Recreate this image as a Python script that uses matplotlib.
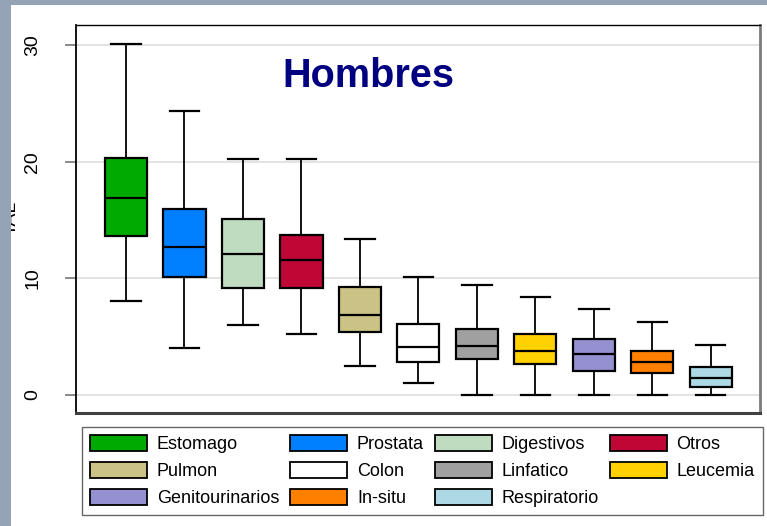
import matplotlib
matplotlib.use("Agg")
import matplotlib.pyplot as plt
from matplotlib.patches import Patch, Rectangle

# ---- data ----
categories = ["Estomago", "Prostata", "Digestivos", "Otros", "Pulmon", "Colon",
              "Linfatico", "Leucemia", "Genitourinarios", "In-situ", "Respiratorio"]
whisker_low = [8.1, 4.0, 6.0, 5.2, 2.5, 1.0, 0.0, 0.0, 0.0, 0.0, 0.0]
q1 =          [13.6, 10.1, 9.2, 9.2, 5.4, 2.8, 3.1, 2.7, 2.1, 1.9, 0.7]
median =      [16.9, 12.7, 12.1, 11.6, 6.9, 4.1, 4.2, 3.8, 3.5, 2.8, 1.5]
q3 =          [20.3, 15.9, 15.1, 13.7, 9.3, 6.1, 5.7, 5.2, 4.8, 3.8, 2.4]
whisker_high = [30.1, 24.3, 20.2, 20.2, 13.4, 10.1, 9.4, 8.4, 7.4, 6.3, 4.3]
colors = ["#00aa00", "#0080ff", "#c0dcc0", "#c00634", "#cbc386", "#ffffff",
          "#a0a0a0", "#ffd200", "#9590d0", "#ff8000", "#add8e6"]
yticks = [0, 10, 20, 30]
title = "Hombres"
ylabel = "TAL"

W, H = 767, 526
fig = plt.figure(figsize=(W / 100, H / 100), dpi=100, facecolor="white")

ax_l, ax_r, ax_t, ax_b = 76, 760, 25, 413
ax = fig.add_axes([ax_l / W, 1 - ax_b / H, (ax_r - ax_l) / W, (ax_b - ax_t) / H])

stats = []
for i, c in enumerate(categories):
    stats.append(dict(label=c, whislo=whisker_low[i], q1=q1[i], med=median[i],
                      q3=q3[i], whishi=whisker_high[i], fliers=[]))
positions = list(range(1, len(categories) + 1))
bp = ax.bxp(stats, positions=positions, widths=0.72, patch_artist=True,
            showfliers=False, capwidths=0.5,
            boxprops=dict(edgecolor="black", linewidth=1.6),
            medianprops=dict(color="black", linewidth=1.6),
            whiskerprops=dict(color="black", linewidth=1.3),
            capprops=dict(color="black", linewidth=1.6))
for patch, col in zip(bp["boxes"], colors):
    patch.set_facecolor(col)
    patch.set_zorder(3)
for ln in bp["medians"]:
    ln.set_zorder(4)

ax.set_xlim(0.145, 11.84)
ax.set_ylim(-1.54, 31.71)
ax.set_xticks([])
ax.set_yticks(yticks)
ax.yaxis.grid(True, color="#dedede", linewidth=1.2)
ax.set_axisbelow(True)
ax.tick_params(axis="y", length=8, width=1.3, color="#808080", pad=17,
               labelsize=14, labelcolor="black")
for lab in ax.get_yticklabels():
    lab.set_rotation(90)
    lab.set_va("center")
    lab.set_fontfamily(["Liberation Sans", "DejaVu Sans"])

ax.spines["top"].set_color("black")
ax.spines["top"].set_linewidth(1.0)
ax.spines["left"].set_color("black")
ax.spines["left"].set_linewidth(1.3)
ax.spines["right"].set_color("#7a7a7a")
ax.spines["right"].set_linewidth(2.0)
ax.spines["bottom"].set_color("#404040")
ax.spines["bottom"].set_linewidth(2.2)

# title
fig.text(368 / W, 1 - 87 / H, title, ha="center", va="baseline",
         fontsize=28.5, fontweight="bold", color="#000080",
         family=["Liberation Sans Narrow", "Liberation Sans", "DejaVu Sans"])

# y label (partly hidden behind slide background)
fig.text(11 / W, 1 - 218 / H, ylabel, rotation=90, ha="center", va="center",
         fontsize=14, family=["Liberation Sans", "DejaVu Sans"])

# legend (row-major order as in the reference)
ncol = 4
nrow = 3
order = [r * ncol + c for c in range(ncol) for r in range(nrow)
         if r * ncol + c < len(categories)]
handles = [Patch(facecolor=colors[i], edgecolor="black", linewidth=1.3) for i in order]
labels = [categories[i] for i in order]
leg = fig.legend(handles, labels, ncol=ncol, loc="upper left",
                 bbox_to_anchor=(82 / W, 1 - 427 / H), borderaxespad=0,
                 frameon=True, fancybox=False, shadow=False,
                 prop=dict(family=["Liberation Sans", "DejaVu Sans"], size=13),
                 handlelength=3.15, handleheight=0.95, handletextpad=0.55,
                 columnspacing=0.6, labelspacing=0.5, borderpad=0.45)
leg.get_frame().set_edgecolor("#404040")
leg.get_frame().set_linewidth(1.0)

# slide background strips
bg = "#95a3b7"
fig.patches.append(Rectangle((0, 0), 11 / W, 1, transform=fig.transFigure,
                             facecolor=bg, edgecolor="none", zorder=10))
fig.patches.append(Rectangle((0, 1 - 5 / H), 1, 5 / H, transform=fig.transFigure,
                             facecolor=bg, edgecolor="none", zorder=10))

fig.savefig("out.png", dpi=100, facecolor="white")
